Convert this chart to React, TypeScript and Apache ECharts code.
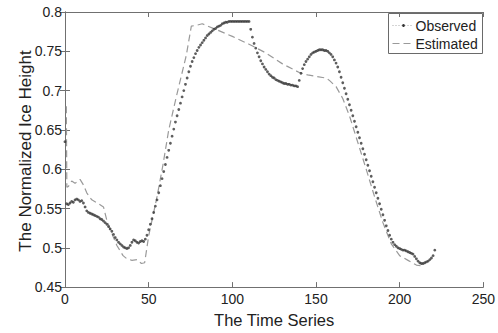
import React, { useEffect, useRef } from "react";
import * as echarts from "echarts";

const observedY: number[] = [
  0.635, 0.556, 0.555, 0.557, 0.559, 0.558, 0.561, 0.562, 0.561, 0.559,
  0.56, 0.557, 0.552, 0.547, 0.545, 0.544, 0.543, 0.542, 0.541, 0.54,
  0.539, 0.537, 0.536, 0.534, 0.532, 0.53, 0.527, 0.524, 0.521, 0.517,
  0.513, 0.51, 0.507, 0.505, 0.503, 0.501, 0.5, 0.499, 0.5, 0.503,
  0.507, 0.51, 0.509, 0.507, 0.506, 0.508, 0.509, 0.508, 0.511, 0.516,
  0.523, 0.53, 0.537, 0.545, 0.553, 0.561, 0.57, 0.579, 0.588, 0.597,
  0.606, 0.615, 0.624, 0.633, 0.642, 0.651, 0.66, 0.668, 0.676, 0.684,
  0.692, 0.7, 0.708, 0.716, 0.724, 0.731, 0.737, 0.742, 0.747, 0.751,
  0.755, 0.758, 0.761, 0.764, 0.767, 0.77, 0.772, 0.774, 0.776, 0.778,
  0.779, 0.781, 0.782, 0.783, 0.785, 0.786, 0.787, 0.787, 0.788, 0.788,
  0.788, 0.788, 0.788, 0.788, 0.788, 0.788, 0.788, 0.788, 0.788, 0.788,
  0.788, 0.778, 0.768, 0.76, 0.754, 0.748, 0.743, 0.738, 0.734, 0.73,
  0.727, 0.724, 0.721, 0.719, 0.717, 0.716, 0.714, 0.713, 0.712, 0.711,
  0.71, 0.709, 0.709, 0.708, 0.708, 0.707, 0.707, 0.706, 0.706, 0.705,
  0.713, 0.722, 0.728, 0.733, 0.737, 0.74, 0.743, 0.746, 0.748, 0.749,
  0.75, 0.751, 0.752, 0.752, 0.752, 0.751, 0.751, 0.75, 0.748, 0.746,
  0.743, 0.739, 0.735, 0.73, 0.724, 0.717, 0.71, 0.703, 0.696, 0.689,
  0.682, 0.675, 0.668, 0.661, 0.654, 0.647, 0.64, 0.633, 0.626, 0.619,
  0.612, 0.605, 0.598, 0.591, 0.584, 0.577, 0.57, 0.563, 0.556, 0.549,
  0.542, 0.535, 0.528, 0.522, 0.516, 0.511, 0.507, 0.504, 0.502, 0.5,
  0.499, 0.498, 0.497, 0.497, 0.496, 0.495, 0.494, 0.493, 0.492, 0.489,
  0.486, 0.483, 0.481, 0.48, 0.48, 0.481, 0.482, 0.483, 0.485, 0.487,
  0.49, 0.497,
];

const estimatedX: number[] = [
  0.8, 1.1, 2, 4, 6, 9, 11, 13, 16, 20, 23, 25, 28.6, 31, 34.7, 37, 40, 43, 45.7, 47.6,
  50, 55, 58.5, 62, 66.5, 72.5, 75.5, 78.5, 82, 90, 100, 110, 120, 130, 140, 145,
  150, 156, 158, 162, 166, 170, 175, 180, 185, 190, 195, 200, 205, 210, 213,
];
const estimatedY: number[] = [
  0.68, 0.577, 0.578, 0.585, 0.582, 0.587, 0.58, 0.57, 0.561, 0.556, 0.552, 0.535, 0.515, 0.503, 0.49, 0.486, 0.484, 0.485, 0.48, 0.481,
  0.515, 0.565, 0.605, 0.65, 0.692, 0.745, 0.782, 0.783, 0.785, 0.778, 0.769, 0.759, 0.748, 0.734, 0.723, 0.72,
  0.718, 0.716, 0.713, 0.705, 0.69, 0.668, 0.634, 0.6, 0.565, 0.532, 0.505, 0.49, 0.484, 0.478, 0.477,
];

const legendNames = ["Observed", "Estimated"];
const xTitle = "The Time Series";
const yTitle = "The Normalized Ice Height";

const FONT = "'Liberation Sans', Arial, sans-serif";

export default function App() {
  const ref = useRef<HTMLDivElement>(null);
  useEffect(() => {
    if (!ref.current) return;
    const chart = echarts.init(ref.current, undefined, { renderer: "svg" });
    const fmt = (v: number) => String(+Number(v).toFixed(2));
    const axisLine = { show: true, lineStyle: { color: "#707070", width: 1 } };
    const tick = { show: true, inside: true, length: 5, lineStyle: { color: "#707070" } };
    chart.setOption({
      animation: false,
      backgroundColor: "#ffffff",
      textStyle: { fontFamily: FONT },
      grid: { left: 65, right: 13, top: 12, bottom: 37, containLabel: false },
      xAxis: [
        {
          type: "value", min: 0, max: 250, interval: 50, position: "bottom",
          axisLine, axisTick: tick, splitLine: { show: false },
          axisLabel: { color: "#222", fontSize: 14, fontFamily: FONT, margin: 5, formatter: fmt },
          name: xTitle, nameLocation: "middle", nameGap: 18,
          nameTextStyle: { color: "#222", fontSize: 16.5, fontFamily: FONT },
        },
        {
          type: "value", min: 0, max: 250, interval: 50, position: "top",
          axisLine, axisTick: tick, axisLabel: { show: false }, splitLine: { show: false },
        },
      ],
      yAxis: [
        {
          type: "value", min: 0.45, max: 0.8, interval: 0.05, position: "left",
          axisLine, axisTick: tick, splitLine: { show: false },
          axisLabel: { color: "#222", fontSize: 14, fontFamily: FONT, margin: 3, formatter: fmt },
        },
        {
          type: "value", min: 0.45, max: 0.8, interval: 0.05, position: "right",
          axisLine, axisTick: tick, axisLabel: { show: false }, splitLine: { show: false },
        },
      ],
      series: [
        {
          name: legendNames[1],
          type: "line",
          data: estimatedX.map((x, i) => [x, estimatedY[i]]),
          showSymbol: false,
          lineStyle: { color: "#9a9a9a", width: 1.2, type: [7, 4] },
          z: 2,
        },
        {
          name: legendNames[0],
          type: "scatter",
          data: observedY.map((y, i) => [i, y]),
          symbol: "circle",
          symbolSize: 2.8,
          itemStyle: { color: "#353535" },
          z: 3,
        },
      ],
      graphic: [
        {
          type: "text",
          x: 25,
          y: 151,
          rotation: Math.PI / 2,
          z: 100,
          style: { text: yTitle, font: `17px ${FONT}`, fill: "#222", align: "center", verticalAlign: "middle" },
        },
        {
          type: "group",
          left: 388,
          top: 13,
          z: 100,
          children: [
            { type: "rect", shape: { x: 0, y: 0, width: 94, height: 40 }, style: { fill: "#fff", stroke: "#6a6a6a", lineWidth: 1 } },
            { type: "line", shape: { x1: 4, y1: 12, x2: 25, y2: 12 }, style: { stroke: "#aaa", lineWidth: 1, lineDash: [1, 2] } },
            { type: "circle", shape: { cx: 15, cy: 12, r: 1.4 }, style: { fill: "#333" } },
            { type: "text", x: 27, y: 12, style: { text: legendNames[0], font: `14px ${FONT}`, fill: "#222", verticalAlign: "middle" } },
            { type: "line", shape: { x1: 4, y1: 30, x2: 25, y2: 30 }, style: { stroke: "#9a9a9a", lineWidth: 1.2, lineDash: [7, 4] } },
            { type: "text", x: 27, y: 30, style: { text: legendNames[1], font: `14px ${FONT}`, fill: "#222", verticalAlign: "middle" } },
          ],
        },
      ],
    });
    return () => chart.dispose();
  }, []);
  return (
    <div
      ref={ref}
      style={{ position: "absolute", left: 0, top: 0, width: 498, height: 333, background: "#fff" }}
    />
  );
}
